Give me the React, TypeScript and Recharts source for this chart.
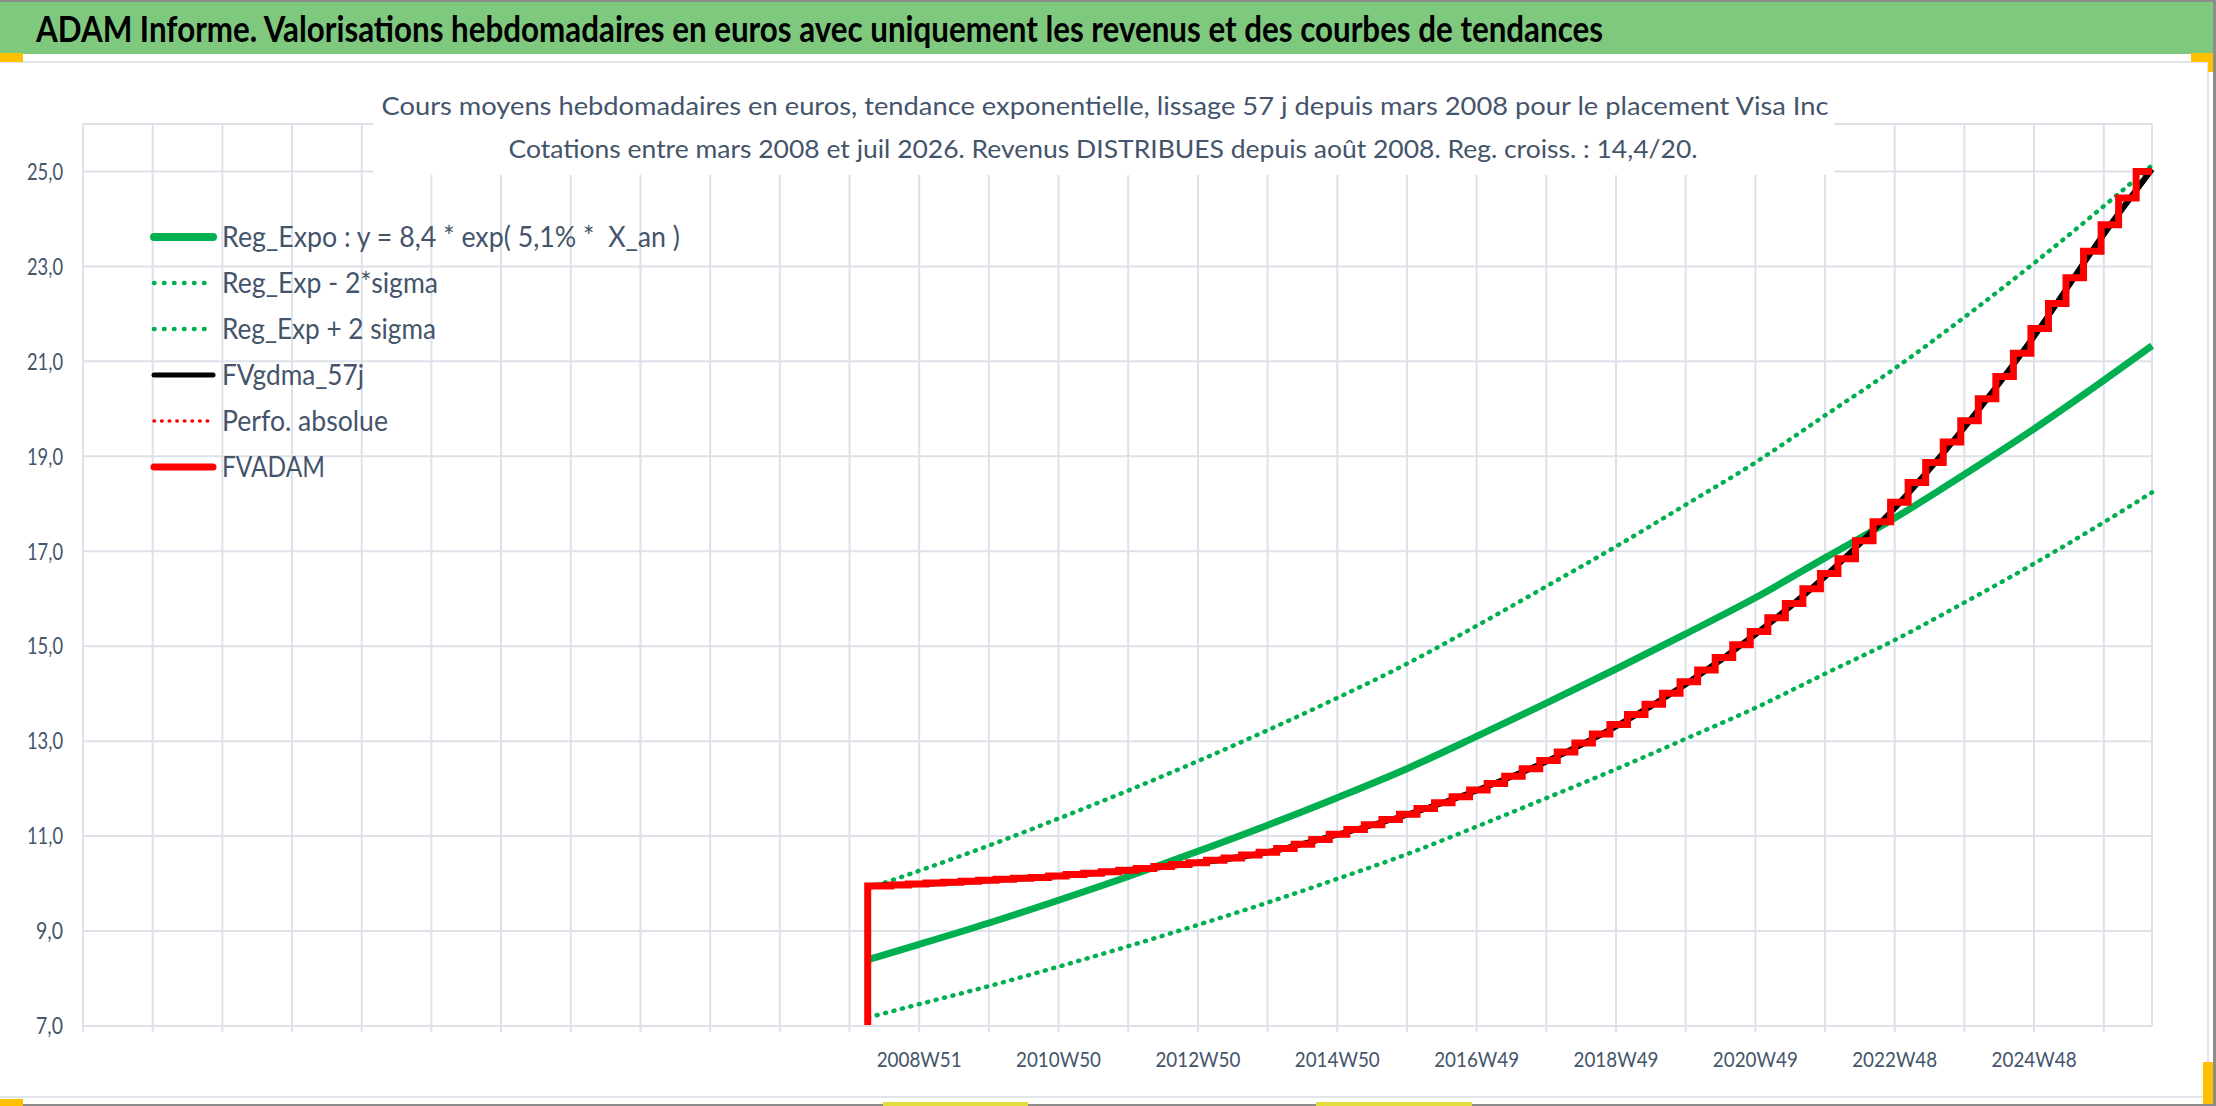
import React from "react";
import { LineChart, Line, XAxis, YAxis, CartesianGrid } from "recharts";

const WIDTH = 2216;
const HEIGHT = 1106;
const TEXT = "#44546A";
const GRID = "#DDE1E8";
const GREEN = "#00B050";
const RED = "#FF0000";
const FONT = 'Lato, "Noto Sans", sans-serif';

// x is a week index counted from the left end of the category axis (2008W51 = 624)
const gridWeeks = [
  0, 52, 104, 156, 208, 260, 312, 364, 416, 468, 520, 572, 624, 676, 728,
  780, 832, 884, 936, 988, 1040, 1092, 1144, 1196, 1248, 1300, 1352, 1404,
  1456, 1508,
];
const labelWeeks = [624, 728, 832, 936, 1040, 1144, 1248, 1352, 1456];
const weekLabels = [
  "2008W51", "2010W50", "2012W50", "2014W50", "2016W49",
  "2018W49", "2020W49", "2022W48", "2024W48",
];
const yTicks = [7, 9, 11, 13, 15, 17, 19, 21, 23, 25];
const AXIS_END_WEEK = 1544;

// trend curves, read about once a year
const trendWeeks = [
  586, 624, 676, 728, 780, 832, 884, 936, 988, 1040, 1092, 1144, 1196, 1248,
  1300, 1352, 1404, 1456, 1508, 1544,
];
const regExpo = [
  8.4, 8.72, 9.17, 9.65, 10.15, 10.68, 11.23, 11.81, 12.42, 13.1, 13.8, 14.52,
  15.26, 16.02, 16.86, 17.7, 18.62, 19.58, 20.6, 21.33,
];
const regMinus2Sigma = [
  7.18, 7.46, 7.84, 8.25, 8.68, 9.13, 9.6, 10.1, 10.62, 11.2, 11.8, 12.41,
  13.05, 13.7, 14.42, 15.13, 15.92, 16.74, 17.61, 18.24,
];
const regPlus2Sigma = [
  9.9, 10.27, 10.8, 11.37, 11.96, 12.58, 13.23, 13.91, 14.63, 15.43, 16.26,
  17.1, 17.98, 18.87, 19.86, 20.85, 21.93, 23.07, 24.27, 25.13,
];
const fvGdma57j = [
  9.95, 9.99, 10.07, 10.16, 10.28, 10.44, 10.66, 11.03, 11.45, 11.96, 12.57,
  13.31, 14.2, 15.25, 16.47, 17.91, 19.61, 21.53, 23.68, 25.05,
];

// FVADAM moves in quarterly steps
const FVADAM_START_WEEK = 585.6;
const FVADAM_FIRST_STEP_WEEK = 589.7;
const QUARTER_WEEKS = 13.09;
const fvadamOpening = 0;
const fvadamQuarterly = [
  9.95, 9.97, 9.99, 10.01, 10.03, 10.05, 10.07, 10.09, 10.11, 10.13,
  10.16, 10.19, 10.22, 10.25, 10.28, 10.32, 10.36, 10.4, 10.44, 10.49,
  10.54, 10.6, 10.66, 10.74, 10.83, 10.93, 11.04, 11.14, 11.24, 11.35,
  11.46, 11.58, 11.7, 11.83, 11.97, 12.11, 12.26, 12.42, 12.59, 12.77,
  12.96, 13.15, 13.35, 13.56, 13.78, 14.01, 14.25, 14.5, 14.76, 15.03,
  15.31, 15.6, 15.9, 16.21, 16.53, 16.84, 17.22, 17.62, 18.03, 18.45,
  18.87, 19.3, 19.75, 20.21, 20.68, 21.17, 21.69, 22.22, 22.76, 23.32,
  23.88, 24.44, 25.0,
];

const legendLabels = [
  "Reg_Expo : y = 8,4 * exp( 5,1% *  X_an )",
  "Reg_Exp - 2*sigma",
  "Reg_Exp + 2 sigma",
  "FVgdma_57j",
  "Perfo. absolue",
  "FVADAM",
];
const legendTextWidths = [458, 216, 214, 142, 166, 103];
const legendStyles = [
  { stroke: GREEN, width: 8, dash: undefined },
  { stroke: GREEN, width: 4.5, dash: "0.5 9.5" },
  { stroke: GREEN, width: 4.5, dash: "0.5 9.5" },
  { stroke: "#000000", width: 5, dash: undefined },
  { stroke: RED, width: 3.5, dash: "0.5 7.1" },
  { stroke: RED, width: 7, dash: undefined },
];

const trendRows = trendWeeks.map((w, i) => ({
  w,
  reg: regExpo[i],
  low: regMinus2Sigma[i],
  high: regPlus2Sigma[i],
  gdma: fvGdma57j[i],
}));

const fvadamRows = [
  { w: FVADAM_START_WEEK, v: fvadamOpening },
  ...fvadamQuarterly.map((v, j) => ({
    w: j === 0 ? FVADAM_START_WEEK : FVADAM_FIRST_STEP_WEEK + QUARTER_WEEKS * j,
    v,
  })),
  { w: AXIS_END_WEEK, v: fvadamQuarterly[fvadamQuarterly.length - 1] },
];

function XTick({ x, payload }: any) {
  const i = labelWeeks.indexOf(payload.value);
  if (i < 0) return null;
  return (
    <text
      x={x}
      y={1067}
      textAnchor="middle"
      fontSize={22}
      fill={TEXT}
      textLength={85}
      lengthAdjust="spacingAndGlyphs"
    >
      {weekLabels[i]}
    </text>
  );
}

function YTick({ y, payload }: any) {
  const label = Number(payload.value).toFixed(1).replace(".", ",");
  return (
    <text
      x={63}
      y={y}
      dy="0.36em"
      textAnchor="end"
      fontSize={23}
      fill={TEXT}
      textLength={label.length === 4 ? 36 : 27}
      lengthAdjust="spacingAndGlyphs"
    >
      {label}
    </text>
  );
}

function Overlay() {
  return (
    <svg
      width={WIDTH}
      height={HEIGHT}
      style={{ position: "absolute", left: 0, top: 0, pointerEvents: "none" }}
    >
      {/* sheet frame and header band */}
      <rect x={0} y={0} width={WIDTH} height={2} fill="#8C8C8C" />
      <rect x={0} y={2} width={2213} height={52} fill="#7FC97F" />
      <text
        x={36}
        y={42}
        fontSize={37}
        fontWeight="bold"
        fill="#000"
        textLength={1567}
        lengthAdjust="spacingAndGlyphs"
      >
        ADAM Informe. Valorisations hebdomadaires en euros avec uniquement les revenus et des courbes de tendances
      </text>
      <rect x={0} y={61} width={2209} height={2} fill="#E1E4EA" />
      <rect x={2207} y={61} width={2} height={1037} fill="#E1E4EA" />
      <rect x={0} y={1096} width={2209} height={2} fill="#E1E4EA" />
      <rect x={2213} y={0} width={3} height={HEIGHT} fill="#8C8C8C" />
      <rect x={0} y={1104} width={WIDTH} height={2} fill="#8C8C8C" />
      <rect x={0} y={53} width={23} height={9} fill="#FFC000" />
      <rect x={2191} y={53} width={22} height={9} fill="#FFC000" />
      <rect x={2208} y={53} width={5} height={19} fill="#FFC000" />
      <rect x={0} y={1099} width={23} height={7} fill="#FFC000" />
      <rect x={2203} y={1062} width={10} height={42} fill="#FFC000" />
      <rect x={883} y={1102} width={145} height={4} fill="#E2DC3C" />
      <rect x={1316} y={1102} width={156} height={4} fill="#E2DC3C" />

      {/* chart title box */}
      <rect x={373} y={64} width={1461} height={111} fill="#fff" />
      <text
        x={1105}
        y={115}
        textAnchor="middle"
        fontSize={25}
        fill={TEXT}
        textLength={1447}
        lengthAdjust="spacingAndGlyphs"
      >
        Cours moyens hebdomadaires en euros, tendance exponentielle, lissage 57 j depuis mars 2008 pour le placement Visa Inc
      </text>
      <text
        x={1103}
        y={158}
        textAnchor="middle"
        fontSize={25}
        fill={TEXT}
        textLength={1189}
        lengthAdjust="spacingAndGlyphs"
      >
        Cotations entre mars 2008 et juil 2026. Revenus DISTRIBUES depuis août 2008. Reg. croiss. : 14,4/20.
      </text>

      {/* legend */}
      {legendLabels.map((label, i) => {
        const y = 237 + 46 * i;
        const s = legendStyles[i];
        return (
          <g key={label}>
            <line
              x1={154}
              x2={213}
              y1={y}
              y2={y}
              stroke={s.stroke}
              strokeWidth={s.width}
              strokeLinecap="round"
              strokeDasharray={s.dash}
            />
            <text
              x={222}
              y={y + 10}
              fontSize={28}
              fill={TEXT}
              textLength={legendTextWidths[i]}
              lengthAdjust="spacingAndGlyphs"
              style={{ whiteSpace: "pre" }}
            >
              {label}
            </text>
          </g>
        );
      })}
    </svg>
  );
}

export default function App() {
  return (
    <div
      style={{
        position: "absolute",
        left: 0,
        top: 0,
        width: WIDTH,
        height: HEIGHT,
        background: "#fff",
        overflow: "hidden",
        fontFamily: FONT,
      }}
    >
      <div style={{ position: "absolute", left: 0, top: 0 }}>
        <LineChart
          width={WIDTH}
          height={HEIGHT}
          data={trendRows}
          margin={{ top: 124, right: 64, bottom: 30, left: 0 }}
        >
          <CartesianGrid stroke={GRID} strokeWidth={2} />
          <XAxis
            dataKey="w"
            type="number"
            domain={[0, AXIS_END_WEEK]}
            ticks={gridWeeks}
            interval={0}
            height={50}
            tickSize={6}
            axisLine={{ stroke: GRID, strokeWidth: 2 }}
            tickLine={{ stroke: GRID, strokeWidth: 2 }}
            tick={<XTick />}
          />
          <YAxis
            type="number"
            domain={[7, 26]}
            ticks={yTicks}
            allowDataOverflow
            width={83}
            axisLine={false}
            tickLine={false}
            tick={<YTick />}
          />
          <Line
            dataKey="reg"
            type="monotone"
            stroke={GREEN}
            strokeWidth={7}
            dot={false}
            activeDot={false}
            isAnimationActive={false}
          />
          <Line
            dataKey="low"
            type="monotone"
            stroke={GREEN}
            strokeWidth={4.5}
            strokeDasharray="1 7.7"
            strokeLinecap="round"
            dot={false}
            activeDot={false}
            isAnimationActive={false}
          />
          <Line
            dataKey="high"
            type="monotone"
            stroke={GREEN}
            strokeWidth={4.5}
            strokeDasharray="1 7.7"
            strokeLinecap="round"
            dot={false}
            activeDot={false}
            isAnimationActive={false}
          />
          <Line
            dataKey="gdma"
            type="monotone"
            stroke="#000000"
            strokeWidth={6}
            dot={false}
            activeDot={false}
            isAnimationActive={false}
          />
          <Line
            data={fvadamRows}
            dataKey="v"
            type="stepAfter"
            stroke={RED}
            strokeWidth={7}
            dot={false}
            activeDot={false}
            isAnimationActive={false}
          />
        </LineChart>
      </div>
      <Overlay />
    </div>
  );
}
